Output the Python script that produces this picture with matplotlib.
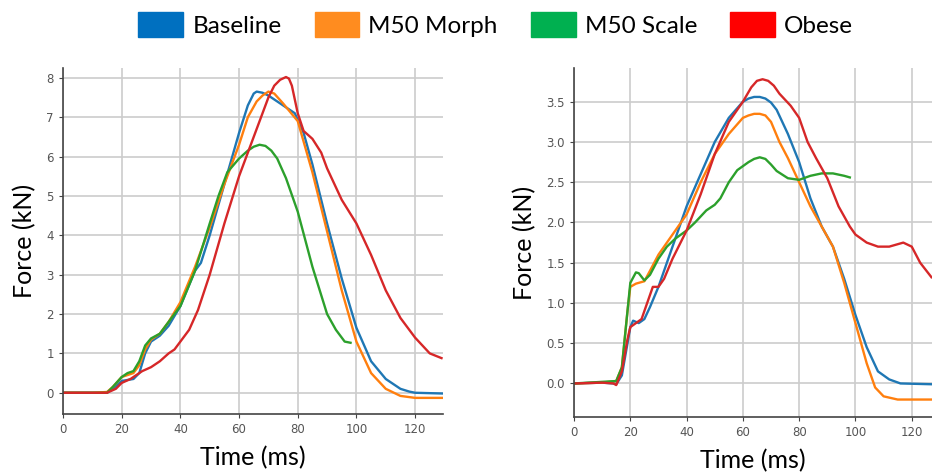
import numpy as np
import matplotlib.pyplot as plt
from matplotlib.patches import Patch

# legend / series
names = ['Baseline', 'M50 Morph', 'M50 Scale', 'Obese']
line_colors = ['#1f77b4', '#ff7f0e', '#2ca02c', '#d62728']
legend_colors = ['#0070C0', '#FF8C1F', '#00B050', '#FF0000']

# left panel (time ms, force kN)
t_base_l = [0, 10, 15, 17, 20, 24, 26, 28, 30, 33, 36, 40, 45, 47, 50, 55, 60, 63, 65, 66, 68, 70, 75, 79, 82, 85, 90, 95, 100, 105, 110, 115, 118, 120, 130]
f_base_l = [0, 0, 0, 0.1, 0.3, 0.35, 0.5, 1.0, 1.3, 1.45, 1.7, 2.2, 3.1, 3.3, 4.0, 5.3, 6.6, 7.3, 7.6, 7.65, 7.62, 7.55, 7.3, 7.1, 6.6, 5.8, 4.3, 2.9, 1.65, 0.8, 0.35, 0.1, 0.03, 0.0, -0.02]
t_morph_l = [0, 10, 15, 17, 20, 24, 26, 28, 30, 33, 36, 40, 45, 50, 55, 60, 63, 66, 68, 70, 72, 75, 80, 85, 90, 95, 100, 105, 110, 115, 120, 130]
f_morph_l = [0, 0, 0.02, 0.15, 0.4, 0.5, 0.7, 1.1, 1.35, 1.5, 1.8, 2.3, 3.2, 4.2, 5.3, 6.3, 7.0, 7.4, 7.55, 7.65, 7.6, 7.35, 6.9, 5.6, 4.1, 2.6, 1.3, 0.5, 0.1, -0.08, -0.13, -0.13]
t_scale_l = [0, 10, 15, 17, 20, 22, 24, 26, 28, 30, 33, 36, 40, 45, 50, 53, 56, 60, 63, 65, 67, 69, 71, 73, 76, 80, 85, 90, 93, 96, 98]
f_scale_l = [0, 0, 0, 0.15, 0.4, 0.5, 0.55, 0.8, 1.2, 1.38, 1.5, 1.8, 2.2, 3.1, 4.3, 5.0, 5.6, 5.95, 6.15, 6.25, 6.3, 6.27, 6.15, 5.95, 5.45, 4.6, 3.2, 2.0, 1.6, 1.3, 1.27]
t_obese_l = [0, 10, 15, 18, 20, 23, 25, 27, 30, 33, 36, 38, 40, 43, 46, 50, 55, 60, 65, 70, 72, 74, 76, 77, 78, 79, 80, 82, 85, 88, 90, 95, 100, 105, 110, 115, 120, 125, 129]
f_obese_l = [0, 0, 0, 0.1, 0.25, 0.35, 0.45, 0.55, 0.65, 0.8, 1.0, 1.1, 1.3, 1.6, 2.1, 3.0, 4.3, 5.5, 6.5, 7.5, 7.8, 7.95, 8.02, 7.98, 7.8, 7.45, 7.1, 6.65, 6.45, 6.1, 5.7, 4.9, 4.3, 3.5, 2.6, 1.9, 1.4, 1.0, 0.88]

# right panel
t_base_r = [0, 10, 14, 15, 17, 19, 20, 21, 23, 25, 27, 30, 33, 36, 40, 45, 50, 55, 60, 62, 64, 66, 68, 70, 72, 76, 80, 84, 88, 92, 96, 100, 104, 108, 112, 116, 127]
f_base_r = [0, 0.01, 0, -0.01, 0.1, 0.5, 0.7, 0.78, 0.75, 0.8, 0.95, 1.2, 1.5, 1.8, 2.2, 2.6, 3.0, 3.3, 3.5, 3.54, 3.56, 3.56, 3.54, 3.49, 3.4, 3.1, 2.75, 2.3, 1.95, 1.7, 1.3, 0.85, 0.45, 0.15, 0.05, 0.0, -0.01]
t_morph_r = [0, 10, 15, 17, 19, 20, 22, 25, 27, 30, 33, 36, 40, 45, 50, 55, 60, 62, 64, 66, 68, 70, 73, 76, 80, 84, 88, 92, 96, 100, 104, 107, 110, 115, 127]
f_morph_r = [0, 0.01, 0.03, 0.2, 0.9, 1.2, 1.24, 1.27, 1.4, 1.6, 1.75, 1.9, 2.1, 2.5, 2.85, 3.1, 3.3, 3.33, 3.35, 3.35, 3.33, 3.25, 3.0, 2.8, 2.5, 2.2, 1.95, 1.7, 1.25, 0.75, 0.25, -0.05, -0.16, -0.2, -0.2]
t_scale_r = [0, 10, 15, 17, 19, 20, 22, 23, 25, 27, 30, 33, 36, 40, 43, 47, 50, 52, 55, 58, 62, 64, 66, 68, 70, 72, 76, 80, 84, 88, 92, 96, 98]
f_scale_r = [0, 0.02, 0.03, 0.2, 0.9, 1.25, 1.38, 1.37, 1.28, 1.35, 1.55, 1.7, 1.8, 1.9, 2.0, 2.15, 2.22, 2.3, 2.5, 2.65, 2.75, 2.79, 2.81, 2.79, 2.72, 2.64, 2.55, 2.53, 2.58, 2.61, 2.61, 2.58, 2.56]
t_obese_r = [0, 10, 14, 15, 17, 19, 20, 22, 24, 26, 28, 30, 32, 35, 40, 45, 50, 55, 60, 63, 65, 67, 69, 71, 73, 77, 80, 83, 86, 90, 94, 98, 100, 104, 108, 112, 117, 120, 123, 127]
f_obese_r = [0, 0.01, 0, -0.02, 0.15, 0.55, 0.7, 0.75, 0.8, 1.0, 1.2, 1.2, 1.3, 1.55, 1.9, 2.35, 2.85, 3.25, 3.5, 3.68, 3.76, 3.78, 3.76, 3.7, 3.6, 3.45, 3.3, 3.0, 2.8, 2.55, 2.2, 1.95, 1.85, 1.75, 1.7, 1.7, 1.75, 1.7, 1.5, 1.32]

left_data = [(t_base_l, f_base_l), (t_morph_l, f_morph_l), (t_scale_l, f_scale_l), (t_obese_l, f_obese_l)]
right_data = [(t_base_r, f_base_r), (t_morph_r, f_morph_r), (t_scale_r, f_scale_r), (t_obese_r, f_obese_r)]

label_font = 'Lato'

fig = plt.figure(figsize=(9.32, 4.72), dpi=100)
ax1 = fig.add_axes([0.0676, 0.122, 0.4077, 0.734])
ax2 = fig.add_axes([0.6159, 0.116, 0.3841, 0.740])

def style(ax):
    ax.grid(True, color='#cccccc', linewidth=1.2)
    ax.set_axisbelow(True)
    for s in ['top', 'right']:
        ax.spines[s].set_visible(False)
    for s in ['left', 'bottom']:
        ax.spines[s].set_color('#444444')
        ax.spines[s].set_linewidth(1.2)
    ax.tick_params(labelsize=8.5, labelcolor='#555555', color='#444444', length=3)
    ax.set_xlabel('Time (ms)', fontsize=18, family=label_font, labelpad=7)
    ax.set_ylabel('Force (kN)', fontsize=18, family=label_font, labelpad=7)

for (t, f), c in zip(left_data, line_colors):
    ax1.plot(t, f, color=c, linewidth=1.7)
ax1.set_xlim(0, 129.5)
ax1.set_ylim(-0.55, 8.25)
ax1.set_xticks([0, 20, 40, 60, 80, 100, 120])
ax1.set_yticks(range(0, 9))
style(ax1)

for (t, f), c in zip(right_data, line_colors):
    ax2.plot(t, f, color=c, linewidth=1.7)
ax2.set_xlim(0, 127.2)
ax2.set_ylim(-0.42, 3.92)
ax2.set_xticks([0, 20, 40, 60, 80, 100, 120])
ax2.set_yticks(np.arange(0, 3.6, 0.5))
ax2.set_yticklabels(['0.0', '0.5', '1.0', '1.5', '2.0', '2.5', '3.0', '3.5'])
style(ax2)

handles = [Patch(facecolor=c, edgecolor=c) for c in legend_colors]
fig.legend(handles, names, loc='upper center', bbox_to_anchor=(0.532, 1.02), ncol=4,
           frameon=False, prop={'family': label_font, 'size': 17.5},
           handlelength=1.85, handleheight=1.19, handletextpad=0.37, columnspacing=1.36)

fig.savefig('out.png', dpi=100)
